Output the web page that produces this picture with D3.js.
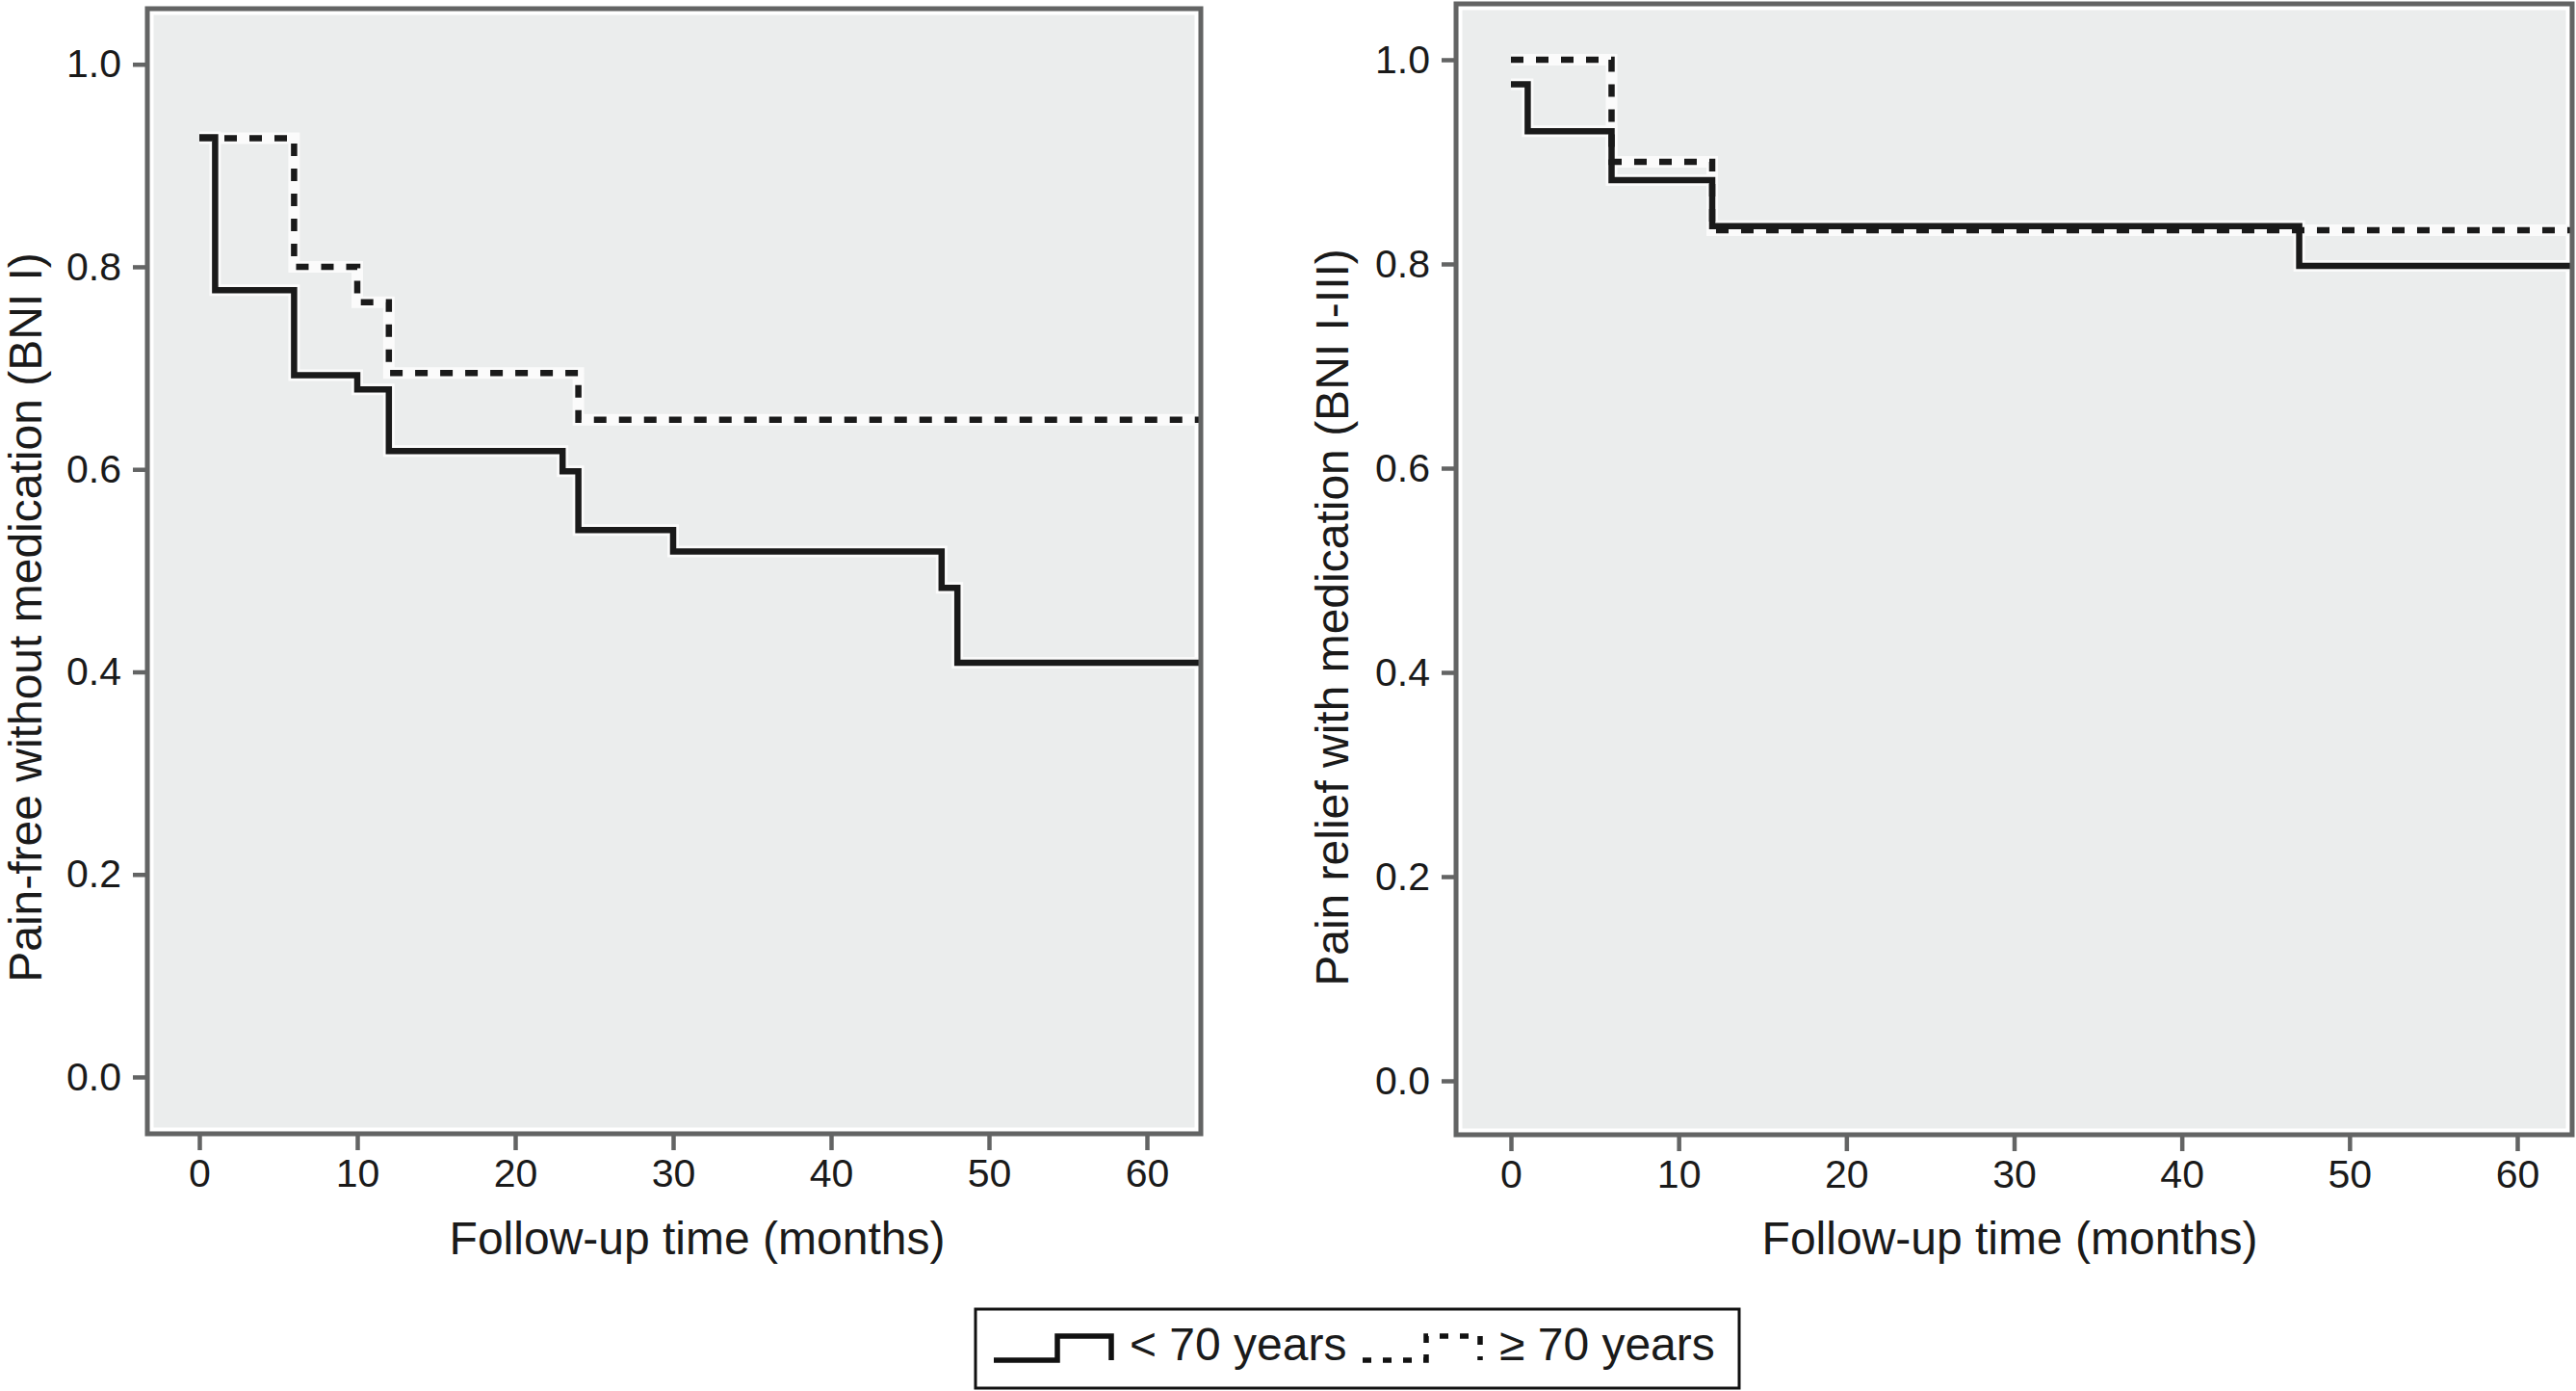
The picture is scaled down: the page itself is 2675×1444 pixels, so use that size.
<!DOCTYPE html>
<html>
<head>
<meta charset="utf-8">
<script src="https://cdn.jsdelivr.net/npm/d3@7"></script>
<style>
  body { margin: 0; background: #fff; }
  text { font-family: "Liberation Sans", Arial, Helvetica, sans-serif; fill: #1a1a1a; }
</style>
</head>
<body>
<svg id="chart" width="2675" height="1444"></svg>
<script>
// ---------------- data ----------------
const groupLabels = ["< 70 years", "\u2265 70 years"];
const xTickValues = [0, 10, 20, 30, 40, 50, 60];
const yTickValues = [0.0, 0.2, 0.4, 0.6, 0.8, 1.0];
const xAxisTitle = "Follow-up time (months)";

// Left panel: pain-free without medication (BNI I)
const leftYTitle = "Pain-free without medication (BNI I)";
const leftYoungTimes = [0, 1, 6, 10, 12, 23, 24, 30, 47, 48];
const leftYoungSurv  = [0.928, 0.777, 0.693, 0.679, 0.618, 0.598, 0.540, 0.519, 0.483, 0.409];
const leftOldTimes   = [0, 6, 10, 12, 24];
const leftOldSurv    = [0.927, 0.800, 0.765, 0.695, 0.649];

// Right panel: pain relief with medication (BNI I-III)
const rightYTitle = "Pain relief with medication (BNI I-III)";
const rightYoungTimes = [0, 1, 6, 12, 47];
const rightYoungSurv  = [0.976, 0.930, 0.882, 0.837, 0.798];
const rightOldTimes   = [0, 6, 12];
const rightOldSurv    = [1.000, 0.900, 0.833];

const followUpEnd = 64; // curves continue to the end of follow-up

// ---------------- layout ----------------
const panels = [
  { yTitle: leftYTitle,
    young: {t: leftYoungTimes, s: leftYoungSurv},
    old:   {t: leftOldTimes,   s: leftOldSurv},
    xr: [207, 1191], yr: [1118, 66.7],
    frame: {x0: 153, y0: 9, x1: 1247, y1: 1177},
    xTitleX: 724, yTitleX: 43 },
  { yTitle: rightYTitle,
    young: {t: rightYoungTimes, s: rightYoungSurv},
    old:   {t: rightOldTimes,   s: rightOldSurv},
    xr: [1569, 2614], yr: [1122, 62],
    frame: {x0: 1512, y0: 4, x1: 2671, y1: 1178},
    xTitleX: 2087, yTitleX: 1400 }
];

const svg = d3.select("#chart");
const gray = "#636464";
const bg = "#ebeded";
const ink = "#1a1a1a";

panels.forEach((p, i) => {
  const x = d3.scaleLinear().domain([0, 60]).range(p.xr);
  const y = d3.scaleLinear().domain([0, 1]).range(p.yr);
  const f = p.frame;
  const g = svg.append("g");

  // background
  g.append("rect").attr("x", f.x0).attr("y", f.y0)
    .attr("width", f.x1 - f.x0).attr("height", f.y1 - f.y0)
    .attr("fill", bg);
  // white inner line
  g.append("rect").attr("x", f.x0 + 4.5).attr("y", f.y0 + 4.5)
    .attr("width", f.x1 - f.x0 - 9).attr("height", f.y1 - f.y0 - 9)
    .attr("fill", "none").attr("stroke", "#fff").attr("stroke-width", 4);

  // clip
  const cid = "clip" + i;
  svg.append("defs").append("clipPath").attr("id", cid)
    .append("rect").attr("x", f.x0 + 2).attr("y", f.y0 + 2)
    .attr("width", f.x1 - f.x0 - 4).attr("height", f.y1 - f.y0 - 4);

  const line = d3.line().x(d => x(d[0])).y(d => y(d[1])).curve(d3.curveStepAfter);
  const pts = ser => {
    const a = ser.t.map((t, k) => [t, ser.s[k]]);
    a.push([followUpEnd, ser.s[ser.s.length - 1]]);
    return a;
  };
  const lg = g.append("g").attr("clip-path", `url(#${cid})`);
  [p.old, p.young].forEach(ser => {
    lg.append("path").attr("d", line(pts(ser))).attr("fill", "none")
      .attr("stroke", "#fbfbfb").attr("stroke-width", 12).attr("stroke-linejoin", "miter");
  });
  lg.append("path").attr("d", line(pts(p.old))).attr("fill", "none")
    .attr("stroke", ink).attr("stroke-width", 6.5).attr("stroke-dasharray", "13,13");
  lg.append("path").attr("d", line(pts(p.young))).attr("fill", "none")
    .attr("stroke", ink).attr("stroke-width", 6.5).attr("stroke-linejoin", "miter");

  // frame
  g.append("rect").attr("x", f.x0).attr("y", f.y0)
    .attr("width", f.x1 - f.x0).attr("height", f.y1 - f.y0)
    .attr("fill", "none").attr("stroke", gray).attr("stroke-width", 5);

  // axes
  const xa = g.append("g").attr("transform", `translate(0,${f.y1 + 2})`)
    .call(d3.axisBottom(x).tickValues(xTickValues).tickSize(15).tickPadding(9).tickFormat(d3.format("d")));
  const ya = g.append("g").attr("transform", `translate(${f.x0 - 2},0)`)
    .call(d3.axisLeft(y).tickValues(yTickValues).tickSize(13).tickPadding(12).tickFormat(d3.format(".1f")));
  [xa, ya].forEach(a => {
    a.select(".domain").remove();
    a.selectAll(".tick line").attr("stroke", gray).attr("stroke-width", 4.5);
    a.selectAll(".tick text").attr("font-size", 41)
      .attr("font-family", "'Liberation Sans', Arial, sans-serif").attr("fill", ink);
  });

  // titles
  g.append("text").attr("x", p.xTitleX).attr("y", 1302)
    .attr("text-anchor", "middle").attr("font-size", 48).text(xAxisTitle);
  g.append("text").attr("transform", `translate(${p.yTitleX},641) rotate(-90)`)
    .attr("text-anchor", "middle").attr("font-size", 48).text(p.yTitle);
});

// ---------------- legend ----------------
const lgd = svg.append("g");
lgd.append("rect").attr("x", 1013).attr("y", 1359).attr("width", 793).attr("height", 82)
  .attr("fill", "#fff").attr("stroke", "#111").attr("stroke-width", 3);
const sym = d3.line();
const symPts = x0 => [[x0, 1412], [x0 + 66, 1412], [x0 + 66, 1387], [x0 + 122, 1387], [x0 + 122, 1412]];
const legendItems = [
  { label: groupLabels[0], symX: 1032, textX: 1173, dash: null },
  { label: groupLabels[1], symX: 1415, textX: 1557, dash: "9,12" }
];
legendItems.forEach(it => {
  const pth = lgd.append("path").attr("d", sym(symPts(it.symX))).attr("fill", "none")
    .attr("stroke", "#111").attr("stroke-width", 5.5);
  if (it.dash) pth.attr("stroke-dasharray", it.dash);
  lgd.append("text").attr("x", it.textX).attr("y", 1412).attr("font-size", 48).text(it.label);
});
</script>
</body>
</html>
